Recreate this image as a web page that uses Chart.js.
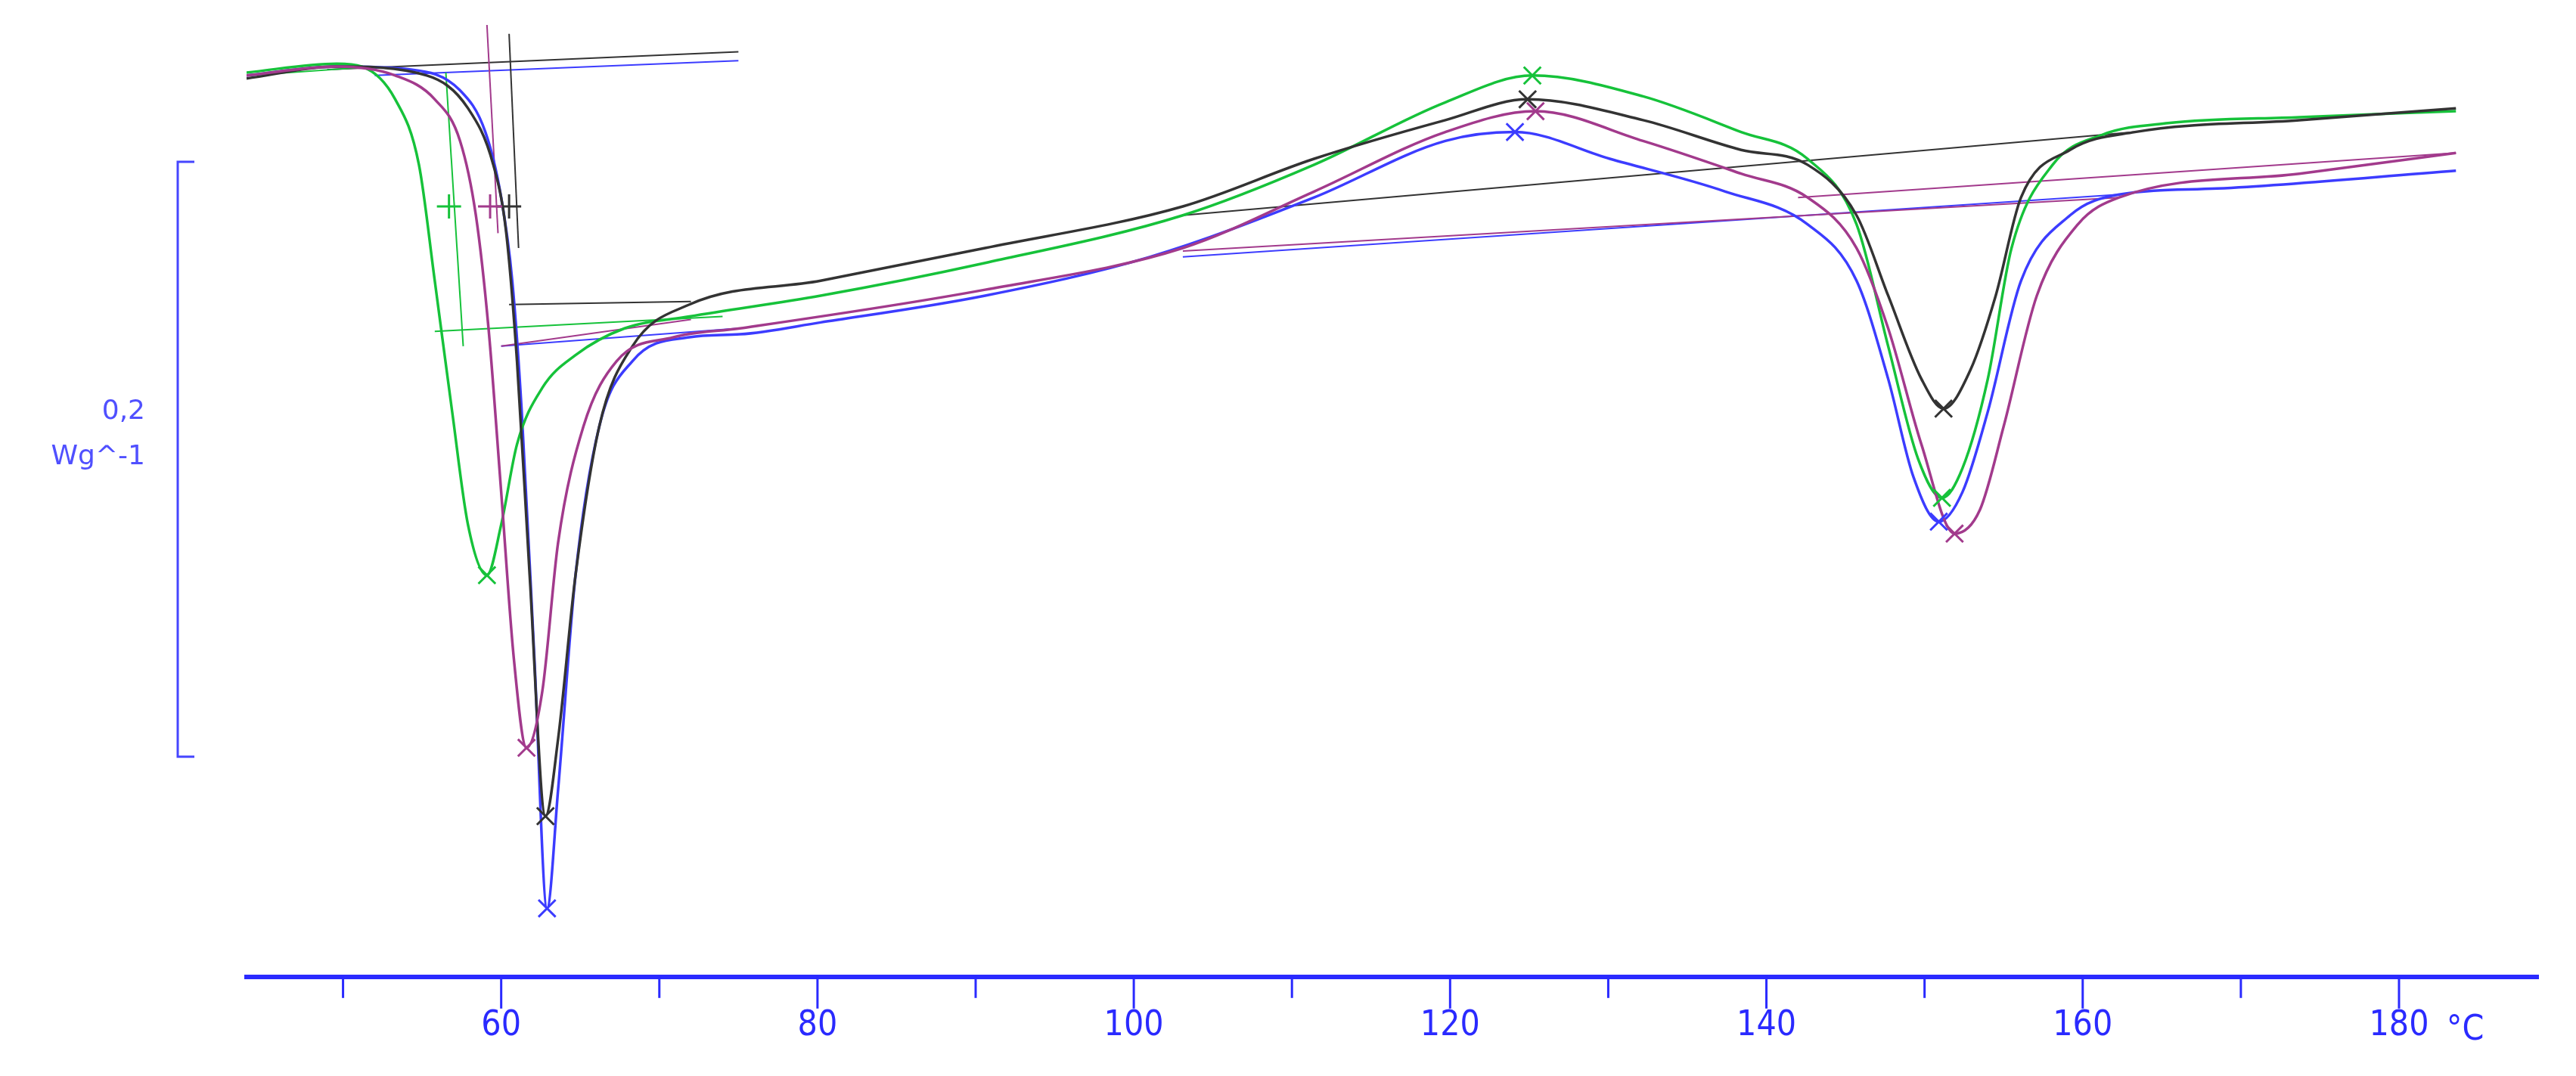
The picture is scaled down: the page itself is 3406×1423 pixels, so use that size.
<!DOCTYPE html>
<html>
<head>
<meta charset="utf-8">
<script src="https://cdn.jsdelivr.net/npm/chart.js@4/dist/chart.umd.min.js"></script>
<style>
  html, body { margin: 0; padding: 0; background: #fff; }
  #dsc { display: block; width: 3406px; height: 1423px; }
</style>
</head>
<body>
<canvas id="dsc" width="3406" height="1423"></canvas>
<script>
// temperature (°C) and heat flow (W/g)
const blueT = [43.9,49.6,54.3,57.4,59.0,60.0,60.7,61.3,62.1,62.9,63.6,64.7,66.2,68.3,71.9,75.1,80.2,90.6,101.0,111.4,119.7,124.1,130.1,137.4,142.6,145.7,147.7,149.3,150.9,152.4,154.0,156.1,159.2,162.3,168.5,183.6];
const blueHF = [.303,.306,.305,.298,.284,.262,.234,.190,.107,.023,.063,.135,.185,.207,.215,.216,.220,.229,.242,.262,.281,.284,.275,.264,.253,.234,.201,.168,.153,.163,.190,.234,.256,.263,.265,.271];

const magentaT = [43.9,49.6,53.3,55.8,57.4,58.4,59.2,60.0,60.8,61.6,62.6,63.6,65.2,67.3,70.9,75.1,90.6,103.1,111.4,119.7,125.4,132.2,138.4,142.6,145.7,147.7,149.8,151.9,153.5,155.0,157.1,159.7,162.3,173.7,183.6];
const magentaHF = [.303,.306,.303,.295,.281,.256,.218,.163,.107,.077,.096,.146,.185,.207,.215,.218,.231,.245,.264,.284,.291,.281,.270,.262,.245,.218,.179,.149,.157,.185,.229,.253,.262,.270,.277];

const blackT = [43.9,49.6,55.3,57.9,59.5,60.3,61.0,61.8,62.8,63.6,64.7,66.2,68.3,71.9,80.2,90.6,103.1,111.4,119.7,124.9,132.2,138.4,142.6,145.7,147.7,149.8,151.2,152.9,154.5,156.1,159.2,163.3,173.7,183.6];
const blackHF = [.302,.306,.303,.292,.273,.251,.207,.135,.054,.080,.135,.185,.212,.226,.234,.245,.259,.275,.288,.295,.288,.278,.273,.256,.229,.201,.191,.204,.229,.262,.278,.284,.288,.292];

const greenT = [43.9,49.6,51.2,53.3,54.8,55.8,56.9,57.9,59.1,60.0,61.0,62.6,64.7,67.8,71.9,80.2,90.6,103.1,111.4,119.7,125.2,132.2,138.4,142.6,145.7,147.7,149.6,151.1,152.4,154.0,155.5,158.1,161.2,165.4,173.7,183.6];
const greenHF = [.304,.307,.306,.295,.273,.234,.190,.152,.135,.152,.179,.198,.209,.218,.222,.229,.240,.256,.273,.294,.303,.296,.284,.275,.253,.212,.174,.161,.171,.201,.245,.273,.283,.287,.289,.291];

// construction (tangent / baseline) lines: [T1, HF1, T2, HF2]
const greenTangents = [[55.8,.217,74.0,.222],[56.5,.304,57.6,.212],[44,.303,52,.306]];
const magentaTangents = [[59.1,.320,59.8,.250],[60.0,.212,72.0,.221],[103.1,.244,162.3,.262],[142,.262,183.6,.277]];
const blackTangents = [[60.5,.317,61.1,.245],[60.5,.226,72.0,.227],[103.1,.256,163.3,.284],[49,.305,75,.311]];
const blueTangents = [[60.0,.212,75.0,.218],[103.1,.242,162.3,.263],[52,.303,75,.308]];

// peak markers (X) and onset markers (+)
const peakT = { blue: [62.9,124.1,150.9], magenta: [61.6,125.4,151.9], black: [62.8,124.9,151.2], green: [59.1,125.2,151.1] };
const peakHF = { blue: [.023,.284,.153], magenta: [.077,.291,.149], black: [.054,.295,.191], green: [.135,.303,.161] };
const onsetT = { green: [56.7], magenta: [59.3], black: [60.5] };
const onsetHF = { green: [.259], magenta: [.259], black: [.259] };

const tickLabels = [60, 80, 100, 120, 140, 160, 180];

const colors = { blue: '#3c3cff', magenta: '#a23a8c', black: '#333333', green: '#16c23a' };

function pts(xs, ys) { return xs.map((x, i) => ({ x: x, y: ys[i] })); }

const datasets = [];
function addCurve(name, xs, ys) {
    datasets.push({ data: pts(xs, ys), borderColor: colors[name], borderWidth: 3.5, pointRadius: 0, cubicInterpolationMode: 'monotone', order: 1 });
}
function addTangents(name, list) {
    list.forEach(t => datasets.push({ data: [{ x: t[0], y: t[1] }, { x: t[2], y: t[3] }], borderColor: colors[name], borderWidth: 2, pointRadius: 0, order: 2 }));
}
function addMarkers(name, xs, ys, style) {
    datasets.push({ data: pts(xs, ys), showLine: false, pointStyle: style, pointRadius: 16, pointBorderWidth: 3, borderColor: colors[name], backgroundColor: colors[name] });
}

addTangents('green', greenTangents);
addTangents('magenta', magentaTangents);
addTangents('black', blackTangents);
addTangents('blue', blueTangents);
addCurve('magenta', magentaT, magentaHF);
addCurve('black', blackT, blackHF);
addCurve('green', greenT, greenHF);
addCurve('blue', blueT, blueHF);
['blue', 'magenta', 'black', 'green'].forEach(n => addMarkers(n, peakT[n], peakHF[n], 'crossRot'));
['green', 'magenta', 'black'].forEach(n => addMarkers(n, onsetT[n], onsetHF[n], 'cross'));

// scale bar, minor/major ticks and unit label
const decor = {
    id: 'decor',
    afterDraw(chart) {
        const ctx = chart.ctx;
        const xs = chart.scales.x, ys = chart.scales.y;
        const base = chart.chartArea.bottom;
        ctx.save();
        ctx.strokeStyle = '#2a2aff';
        ctx.lineWidth = 3;
        for (let v = 50; v <= 180; v += 10) {
            const px = xs.getPixelForValue(v);
            const len = v % 20 === 0 ? 42 : 28;
            ctx.beginPath(); ctx.moveTo(px, base); ctx.lineTo(px, base + len); ctx.stroke();
        }
        ctx.fillStyle = '#2a2aff';
        ctx.font = '46px "DejaVu Sans Condensed", "DejaVu Sans"';
        ctx.textAlign = 'left'; ctx.textBaseline = 'top';
        ctx.fillText('°C', xs.getPixelForValue(183.0), base + 48);

        // 0,2 W/g scale bar
        const top = ys.getPixelForValue(0.274), bot = ys.getPixelForValue(0.074);
        const bx = 235;
        ctx.strokeStyle = '#4646ff';
        ctx.beginPath();
        ctx.moveTo(bx + 22, top); ctx.lineTo(bx, top); ctx.lineTo(bx, bot); ctx.lineTo(bx + 22, bot);
        ctx.stroke();
        ctx.fillStyle = '#5050ff';
        ctx.font = '36px "DejaVu Sans"';
        ctx.textAlign = 'right'; ctx.textBaseline = 'middle';
        ctx.fillText('0,2', 192, 545);
        ctx.fillText('Wg^-1', 192, 605);
        ctx.restore();
    }
};

new Chart(document.getElementById('dsc'), {
    type: 'line',
    data: { datasets: datasets },
    plugins: [decor],
    options: {
        responsive: false,
        devicePixelRatio: 1,
        animation: false,
        layout: { padding: { left: 326, right: 50, top: 33, bottom: 0 } },
        plugins: { legend: { display: false }, tooltip: { enabled: false } },
        scales: {
            x: {
                type: 'linear', min: 43.9, max: 188.8,
                grid: { display: false, drawTicks: false },
                border: { display: true, color: '#2a2aff', width: 6 },
                afterBuildTicks: axis => { axis.ticks = tickLabels.map(v => ({ value: v })); },
                ticks: { color: '#2a2aff', padding: 38, maxRotation: 0, font: { size: 46, family: '"DejaVu Sans Condensed", "DejaVu Sans"' } }
            },
            y: { type: 'linear', min: 0, max: 0.32, display: false }
        }
    }
});
</script>
</body>
</html>
